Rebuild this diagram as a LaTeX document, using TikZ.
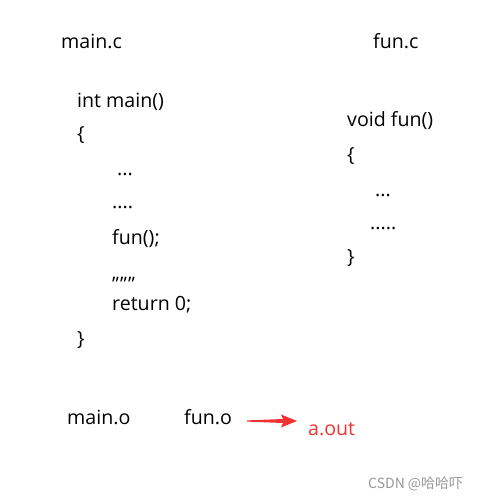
\documentclass[tikz,border=0pt]{standalone}
\usepackage{fontspec}
\setmainfont{Open Sans}
\newfontfamily\cjkfont{Noto Sans CJK SC}
\usetikzlibrary{calc}
\definecolor{outred}{RGB}{240,50,50}
\tikzset{
  code/.style={anchor=base west, inner sep=0pt, font=\fontsize{19.6}{22}\selectfont},
  mark text/.style={code, text=gray!80, font=\cjkfont\fontsize{14}{16}\selectfont}
}
\begin{document}
\begin{tikzpicture}[x=1pt,y=-1pt]
	\useasboundingbox (0,0) rectangle (483,500);
	
	% main.c
	\node[code] (mainc) at (61,49) {main.c};
	\node[code] (m1) at (77,107) {int main()};
	\node[code] (m2) at (77,140) {\{};
	\node[code] (m3) at (117,175) {...};
	\node[code] (m4) at (112,208) {....};
	\node[code] (m5) at (112,244) {fun();};
	\node[code] (m6) at (112,279) {,,,,,,};
	\node[code] (m7) at (112,310) {return 0;};
	\node[code] (m8) at (77,345) {\}};
	
	% fun.c
	\node[code] (func) at (373,49) {fun.c};
	\node[code] (f1) at (347,126) {void fun()};
	\node[code] (f2) at (347,161) {\{};
	\node[code] (f3) at (375,196) {...};
	\node[code] (f4) at (370,229) {.....};
	\node[code] (f5) at (347,263) {\}};
	
	% link
	\node[code] (maino) at (67,424) {main.o};
	\node[code] (funo) at (184,424) {fun.o};
	\node[code, text=outred] (aout) at (308,435) {a.out};
	\coordinate (t) at (247,421);
	\coordinate (h) at (297,421);
	\fill[outred] ($(t)+(0,-0.6)$) -- ($(h)+(-14,-2)$) -- ($(h)+(-16,-6.5)$) -- (h)
		-- ($(h)+(-16,6.5)$) -- ($(h)+(-14,2)$) -- ($(t)+(0,0.6)$) -- cycle;
	
	\node[mark text] (mark) at (368,488) {CSDN @哈哈吓};
\end{tikzpicture}
\end{document}
